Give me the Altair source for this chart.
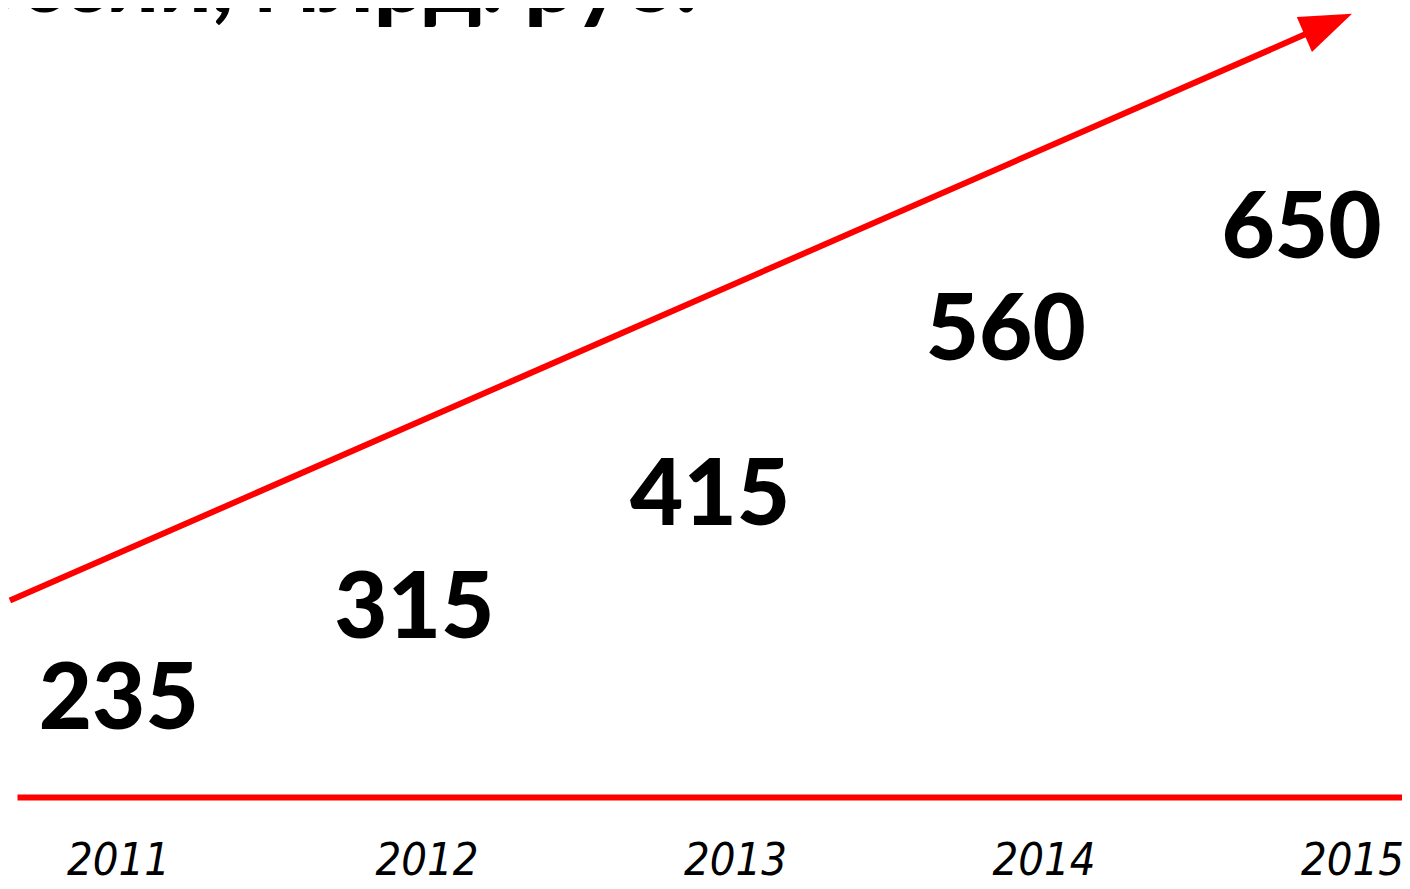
import altair as alt
import pandas as pd

# ---- data ----
years = [2011, 2012, 2013, 2014, 2015]
values = [235, 315, 415, 560, 650]
title_text = ["России, млрд. руб."]

# decorative trend arrow, expressed in data units (year, value)
trend_years = [2010.65, 2014.85]
trend_values = [348, 847]
arrow_tip_year = [2015.0]
arrow_tip_value = [865]

df = pd.DataFrame({"year": years, "value": values})
trend = pd.DataFrame({"year": trend_years, "value": trend_values})
tip = pd.DataFrame({"year": arrow_tip_year, "value": arrow_tip_value})
tdf = pd.DataFrame({"t": title_text})

RED = "#ff0000"

xscale = alt.Scale(domain=[2010.673, 2015.162], nice=False, zero=False)
xscale_labels = alt.Scale(domain=[2010.656, 2015.340], nice=False, zero=False)
yscale = alt.Scale(domain=[175, 870], nice=False, zero=False)

xaxis = alt.Axis(
    values=years, format="d", title=None, grid=False, ticks=False,
    domainColor=RED, domainWidth=6,
    labelFont="DejaVu Sans Condensed", labelFontSize=45, labelFontStyle="italic",
    labelColor="black", labelPadding=41, labelBaseline="top",
    labelFlush=False, labelOverlap=False,
)

X = alt.X("year:Q", scale=xscale, axis=xaxis)
Y = alt.Y("value:Q", scale=yscale, axis=None)

line = alt.Chart(trend).mark_line(
    color=RED, strokeWidth=6, strokeCap="butt"
).encode(x=X, y=Y)

head = alt.Chart(tip).mark_point(
    shape="M0,0L-0.73,2L0.73,2Z", filled=True, color=RED, size=2704,
    angle=66.4, opacity=1, strokeWidth=0,
).encode(x=X, y=Y)

base = alt.layer(line, head)

labels = alt.Chart(df).mark_text(
    font="Lato", fontSize=92, fontWeight=900, baseline="alphabetic",
    align="center", color="black",
).encode(
    x=alt.X("year:Q", scale=xscale_labels, axis=None),
    y=Y,
    text="value:Q",
)

title = alt.Chart(tdf).mark_text(
    font="Lato", fontSize=90, fontWeight=900, baseline="alphabetic",
    align="right", color="black",
).encode(text="t:N", x=alt.value(680), y=alt.value(4))

chart = alt.layer(base, labels, title).resolve_scale(x="independent").properties(
    width=1385, height=789,
    padding={"left": 9, "top": 0, "right": 0, "bottom": 84},
    autosize="none",
    background="white",
).configure_view(strokeWidth=0)

chart.save("out.html", embed_options={"renderer": "svg", "actions": False})
